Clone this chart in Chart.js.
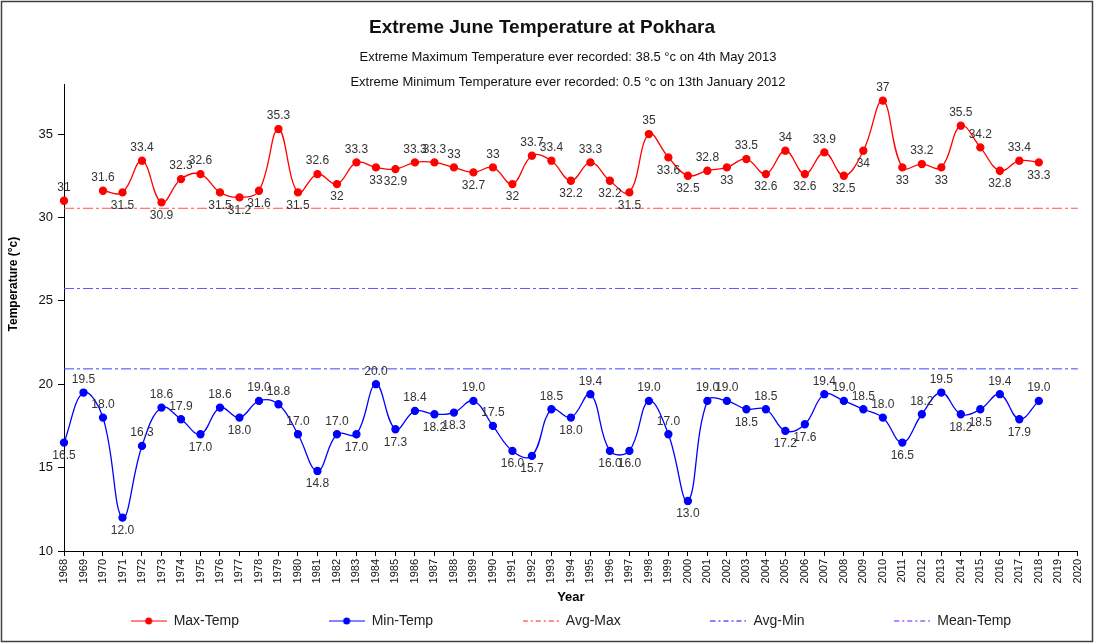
<!DOCTYPE html>
<html>
<head>
<meta charset="utf-8">
<title>Extreme June Temperature at Pokhara</title>
<script src="https://cdn.jsdelivr.net/npm/chart.js@4.4.1/dist/chart.umd.min.js"></script>
<style>
  html, body { margin: 0; padding: 0; background: #fff; }
  canvas { display: block; }
</style>
</head>
<body>
<canvas id="chart" width="1094" height="643"></canvas>
<script>
const chartTitle = 'Extreme June Temperature at Pokhara'
const subtitles = [
  'Extreme Maximum Temperature ever recorded: 38.5 °c on 4th May 2013',
  'Extreme Minimum Temperature ever recorded: 0.5 °c on 13th January 2012'
]

const years = [
  '1968','1969','1970','1971','1972','1973','1974','1975','1976','1977',
  '1978','1979','1980','1981','1982','1983','1984','1985','1986','1987',
  '1988','1989','1990','1991','1992','1993','1994','1995','1996','1997',
  '1998','1999','2000','2001','2002','2003','2004','2005','2006','2007',
  '2008','2009','2010','2011','2012','2013','2014','2015','2016','2017',
  '2018','2019','2020'
]

// 1968 .. 2018
const maxTemp = [
  31, null, 31.6, 31.5, 33.4, 30.9, 32.3, 32.6, 31.5, 31.2,
  31.6, 35.3, 31.5, 32.6, 32, 33.3, 33, 32.9, 33.3, 33.3,
  33, 32.7, 33, 32, 33.7, 33.4, 32.2, 33.3, 32.2, 31.5,
  35, 33.6, 32.5, 32.8, 33, 33.5, 32.6, 34, 32.6, 33.9,
  32.5, 34, 37, 33, 33.2, 33, 35.5, 34.2, 32.8, 33.4,
  33.3
]

const minTemp = [
  16.5, 19.5, 18.0, 12.0, 16.3, 18.6, 17.9, 17.0, 18.6, 18.0,
  19.0, 18.8, 17.0, 14.8, 17.0, 17.0, 20.0, 17.3, 18.4, 18.2,
  18.3, 19.0, 17.5, 16.0, 15.7, 18.5, 18.0, 19.4, 16.0, 16.0,
  19.0, 17.0, 13.0, 19.0, 19.0, 18.5, 18.5, 17.2, 17.6, 19.4,
  19.0, 18.5, 18.0, 16.5, 18.2, 19.5, 18.2, 18.5, 19.4, 17.9,
  19.0
]

const avgMax = 30.55
const avgMin = 20.92
const meanTemp = 25.74

const yTicks = [10, 15, 20, 25, 30, 35]

const FONT = '"Liberation Sans", Arial, sans-serif'
Chart.defaults.font.family = FONT

const dashDot = [10, 3, 3, 3]

function legendIcon(color, dash, dot) {
  const c = document.createElement('canvas')
  c.width = 36
  c.height = 10
  const g = c.getContext('2d')
  g.strokeStyle = color
  g.lineWidth = 1.5
  g.setLineDash(dash)
  g.beginPath()
  g.moveTo(0, 5)
  g.lineTo(36, 5)
  g.stroke()
  if (dot) {
    g.fillStyle = dot
    g.beginPath()
    g.arc(18, 5, 3.5, 0, Math.PI * 2)
    g.fill()
  }
  return c
}

const legendIcons = [
  legendIcon('#ff5a5a', [], '#ff0000'),
  legendIcon('#5a5aff', [], '#0000ff'),
  legendIcon('#ff6a6a', [5, 3, 2, 3], null),
  legendIcon('#5a5aff', [5, 3, 2, 3], null),
  legendIcon('#9a66ff', [5, 3, 2, 3], null)
]

function refLine(value) {
  return [{ x: years[0], y: value }, { x: years[years.length - 1], y: value }]
}

// white page, frame and the three heading lines
const headings = {
  id: 'headings',
  beforeDraw(chart) {
    const ctx = chart.ctx
    ctx.save()
    ctx.fillStyle = '#fff'
    ctx.fillRect(0, 0, chart.width, chart.height)
    ctx.strokeStyle = '#404040'
    ctx.lineWidth = 1.5
    ctx.strokeRect(1.5, 1.5, chart.width - 3, chart.height - 3)
    ctx.fillStyle = '#111'
    ctx.textAlign = 'center'
    ctx.textBaseline = 'middle'
    ctx.font = 'bold 19px ' + FONT
    ctx.fillText(chartTitle, 542, 28)
    ctx.font = '13px ' + FONT
    ctx.fillText(subtitles[0], 568, 57)
    ctx.fillText(subtitles[1], 568, 82)
    ctx.restore()
  }
}

// value labels above peaks, below dips
const valueLabels = {
  id: 'valueLabels',
  afterDatasetsDraw(chart) {
    const ctx = chart.ctx
    ctx.save()
    ctx.font = '12px ' + FONT
    ctx.fillStyle = '#333'
    ctx.textAlign = 'center'
    ctx.textBaseline = 'middle'
    chart.data.datasets.forEach((ds, di) => {
      if (!ds.valueLabel) return
      const meta = chart.getDatasetMeta(di)
      meta.data.forEach((pt, i) => {
        const v = ds.data[i]
        if (v == null) return
        const nb = [ds.data[i - 1], ds.data[i + 1]].filter(n => n != null)
        const ref = nb.length ? nb.reduce((a, b) => a + b, 0) / nb.length : v
        const dy = v >= ref ? -13 : 13
        const txt = ds.valueLabel === 'fixed' ? v.toFixed(1) : String(v)
        ctx.fillText(txt, pt.x, pt.y + dy)
      })
    })
    ctx.restore()
  }
}

const data = {
  labels: years,
  datasets: [
    {
      label: 'Max-Temp',
      data: maxTemp,
      borderColor: '#ff0000',
      backgroundColor: '#ff0000',
      borderWidth: 1.3,
      pointRadius: 3.5,
      pointHoverRadius: 3.5,
      tension: 0.4,
      spanGaps: false,
      clip: false,
      valueLabel: 'raw'
    },
    {
      label: 'Min-Temp',
      data: minTemp,
      borderColor: '#0000ff',
      backgroundColor: '#0000ff',
      borderWidth: 1.3,
      pointRadius: 3.5,
      pointHoverRadius: 3.5,
      tension: 0.4,
      clip: false,
      valueLabel: 'fixed'
    },
    {
      label: 'Avg-Max',
      data: refLine(avgMax),
      borderColor: '#ff5050',
      borderWidth: 1,
      borderDash: dashDot,
      pointRadius: 0,
      tension: 0
    },
    {
      label: 'Avg-Min',
      data: refLine(avgMin),
      borderColor: '#4040ff',
      borderWidth: 1,
      borderDash: dashDot,
      pointRadius: 0,
      tension: 0
    },
    {
      label: 'Mean-Temp',
      data: refLine(meanTemp),
      borderColor: '#6a50ff',
      borderWidth: 1,
      borderDash: dashDot,
      pointRadius: 0,
      tension: 0
    }
  ]
}

const chart_config = {
  type: 'line',
  data: data,
  plugins: [headings, valueLabels],
  options: {
    responsive: false,
    animation: false,
    devicePixelRatio: 1,
    layout: {
      padding: { top: 84, left: 4, right: 14, bottom: 5 }
    },
    plugins: {
      title: { display: false },
      tooltip: { enabled: false },
      legend: {
        position: 'bottom',
        fullSize: false,
        labels: {
          usePointStyle: true,
          pointStyleWidth: 36,
          padding: 8,
          color: '#222',
          font: { size: 14 },
          generateLabels(chart) {
            const items = Chart.defaults.plugins.legend.labels.generateLabels(chart)
            return items.map((it, i) => {
              it.pointStyle = legendIcons[it.datasetIndex]
              if (i < items.length - 1) it.text = it.text + ' '.repeat(21)
              return it
            })
          }
        }
      }
    },
    scales: {
      x: {
        type: 'category',
        grid: { display: true, drawOnChartArea: false, drawTicks: true, tickLength: 5, color: '#000' },
        border: { display: true, color: '#000', width: 1 },
        ticks: { autoSkip: false, maxRotation: 90, minRotation: 90, padding: 3, color: '#111', font: { size: 11 } },
        title: {
          display: true,
          text: 'Year',
          color: '#000',
          font: { size: 13, weight: 'bold' },
          padding: { top: 0, bottom: 1 }
        },
        afterFit(s) { s.height = 55 }
      },
      y: {
        min: 10,
        max: 38,
        grid: { display: true, drawOnChartArea: false, drawTicks: true, tickLength: 6, color: '#000' },
        border: { display: true, color: '#000', width: 1 },
        ticks: { stepSize: 5, padding: 5, color: '#111', font: { size: 13 } },
        afterBuildTicks(s) { s.ticks = yTicks.map(v => ({ value: v })) },
        title: {
          display: true,
          // leading blanks lift the rotated title above the middle, as in the original
          text: ' '.repeat(20) + 'Temperature (°c)',
          color: '#000',
          font: { size: 12, weight: 'bold' },
          padding: { top: 2, bottom: 0 }
        },
        afterFit(s) { s.width = 60 }
      }
    }
  }
}

const table = new Chart(
  document.getElementById('chart'),
  chart_config
)
</script>
</body>
</html>
